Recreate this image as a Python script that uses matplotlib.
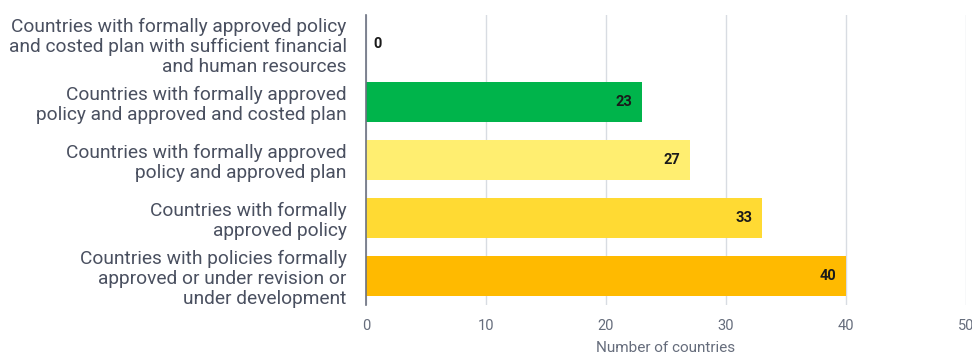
import matplotlib
matplotlib.use("Agg")
import matplotlib.pyplot as plt

categories = [
    "Countries with formally approved policy\nand costed plan with sufficient financial\nand human resources",
    "Countries with formally approved\npolicy and approved and costed plan",
    "Countries with formally approved\npolicy and approved plan",
    "Countries with formally\napproved policy",
    "Countries with policies formally\napproved or under revision or\nunder development",
]
values = [0, 23, 27, 33, 40]
colors = ["#00B44B", "#00B44B", "#FFEE70", "#FFDA33", "#FFBA00"]
xticks = [0, 10, 20, 30, 40, 50]
xlabel = "Number of countries"

plt.rcParams['font.family'] = ['Roboto', 'DejaVu Sans']
fig = plt.figure(figsize=(9.72, 3.56), dpi=100)
ax = fig.add_axes([0.3765, 0.143, 0.6173, 0.815])

ypos = list(range(len(categories)))
ax.barh(ypos, values, height=0.69, color=colors, zorder=2)
ax.set_ylim(len(categories) - 0.5, -0.5)
ax.set_xlim(0, 50)
ax.set_xticks(xticks)
ax.set_xticklabels([str(t) for t in xticks], fontsize=10.5, color="#666d7c")
ax.set_yticks(ypos)
ax.set_yticklabels(categories, fontsize=13.8, color="#4a5060", linespacing=1.12)
ax.tick_params(axis='both', length=0)
ax.tick_params(axis='y', pad=14)
ax.tick_params(axis='x', pad=10)
ax.grid(axis='x', color="#d8dce2", linewidth=1, zorder=0)
for s in ["top", "right", "bottom"]:
    ax.spines[s].set_visible(False)
ax.spines["left"].set_color("#6b7180")
ax.spines["left"].set_linewidth(1.2)
ax.spines["left"].set_zorder(3)
ax.set_xlabel(xlabel, fontsize=11, color="#666d7c", labelpad=6)

for y, v in zip(ypos, values):
    if v == 0:
        ax.text(0.6, y, str(v), ha="left", va="center", fontsize=10.5, fontweight="bold", color="#1a1a1a", zorder=4)
    else:
        ax.text(v - 0.8, y, str(v), ha="right", va="center", fontsize=10.5, fontweight="bold", color="#1a1a1a", zorder=4)

fig.savefig("out.png", dpi=100)
